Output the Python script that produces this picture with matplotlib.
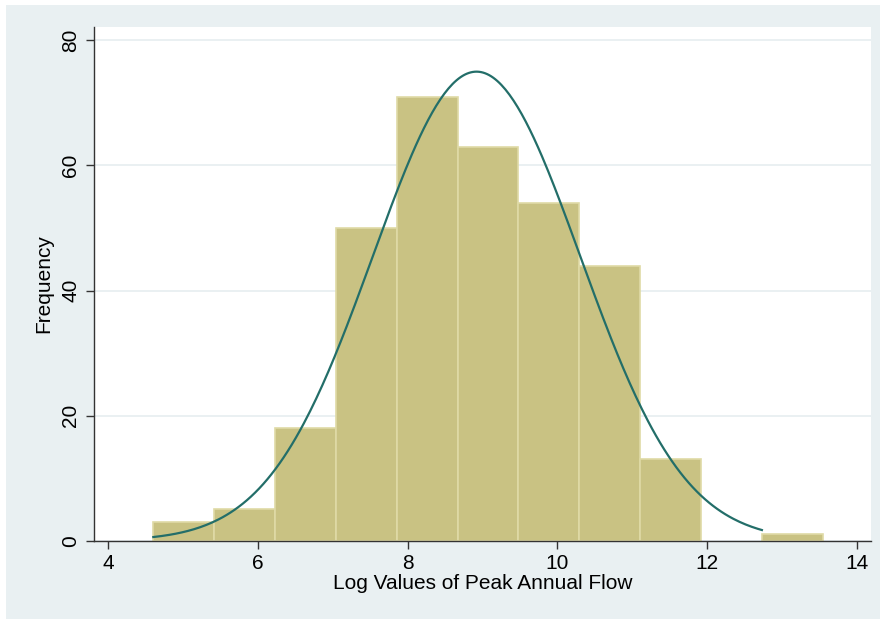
import numpy as np
import matplotlib.pyplot as plt
from matplotlib.patches import Rectangle

plt.rcParams['font.family'] = ['Liberation Sans', 'DejaVu Sans']

# histogram bins (left edges) and counts
bin_start = 4.605
bin_width = 0.8125
counts = [3, 5, 18, 50, 71, 63, 54, 44, 13, 0, 1]

# normal curve parameters
curve_mean = 8.92
curve_sd = 1.385
curve_scale = 260.4   # N * bin width
curve_range = [4.605, 12.73]

xticks = [4, 6, 8, 10, 12, 14]
yticks = [0, 20, 40, 60, 80]

bar_color = "#c9c283"
edge_color = "#dfdaa6"
line_color = "#236e69"
bg_color = "#e9f0f2"

fig = plt.figure(figsize=(8.8, 6.19), dpi=100)
fig.patch.set_facecolor("white")
fig.patches.append(Rectangle((6 / 880, 0), 1, 1 - 5 / 619, transform=fig.transFigure,
                             facecolor=bg_color, edgecolor="none", zorder=-10))

ax = fig.add_axes([94.3 / 880, 1 - 540.7 / 619, (870.5 - 94.3) / 880, (540.7 - 27.3) / 619])
ax.set_facecolor("white")

lefts = bin_start + bin_width * np.arange(len(counts))
heights = np.array(counts)
ax.bar(lefts, heights, width=bin_width, align="edge", color=bar_color,
       edgecolor=[edge_color if c > 0 else "none" for c in counts],
       linewidth=1.2, zorder=2)

xs = np.linspace(curve_range[0], curve_range[1], 300)
ys = curve_scale / (curve_sd * np.sqrt(2 * np.pi)) * np.exp(-0.5 * ((xs - curve_mean) / curve_sd) ** 2)
ax.plot(xs, ys, color=line_color, linewidth=1.6, zorder=3)

ax.set_xlim(3.817, 14.18)
ax.set_ylim(0, 82.1)
ax.set_xticks(xticks)
ax.set_yticks(yticks)
ax.yaxis.grid(True, color="#e6eef0", linewidth=1.2, zorder=0)
ax.set_axisbelow(True)

for s in ["top", "right"]:
    ax.spines[s].set_visible(False)
for s in ["left", "bottom"]:
    ax.spines[s].set_color("#333333")
    ax.spines[s].set_linewidth(1.0)

ax.tick_params(axis="both", labelsize=15, length=6, width=1, color="#333333")
ax.tick_params(axis="y", pad=4)
plt.setp(ax.get_yticklabels(), rotation=90, va="center")

ax.set_xlabel("Log Values of Peak Annual Flow", fontsize=15, labelpad=1)
ax.set_ylabel("Frequency", fontsize=15, labelpad=6)

fig.savefig("out.png", dpi=100)
